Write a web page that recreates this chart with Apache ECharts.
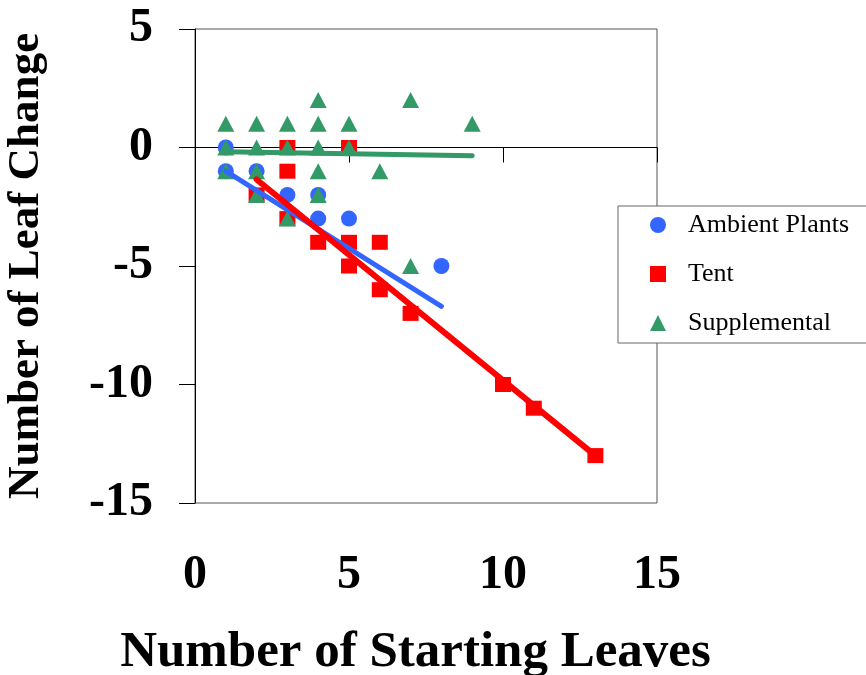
<!DOCTYPE html>
<html>
<head>
<meta charset="utf-8">
<script src="https://cdn.jsdelivr.net/npm/echarts@6/dist/echarts.min.js"></script>
<style>
  html, body { margin: 0; padding: 0; background: #fff; }
  #chart { width: 866px; height: 675px; }
</style>
</head>
<body>
<div id="chart"></div>
<script>
// Leaf change against starting leaf count, three growing treatments
const seriesNames = ['Ambient Plants', 'Tent', 'Supplemental'];

const ambientPoints = [[1, 0], [1, -1], [2, -1], [3, -2], [4, -2], [4, -3], [5, -3], [8, -5]];
const tentPoints = [[3, 0], [5, 0], [3, -1], [2, -2], [3, -3], [4, -4], [5, -4], [6, -4],
                    [5, -5], [6, -6], [7, -7], [10, -10], [11, -11], [13, -13]];
const supplementalPoints = [[1, 1], [2, 1], [3, 1], [4, 1], [5, 1], [9, 1], [4, 2], [7, 2],
                            [1, 0], [2, 0], [3, 0], [4, 0], [5, 0],
                            [1, -1], [2, -1], [4, -1], [6, -1], [2, -2], [4, -2], [3, -3], [7, -5]];

// Linear trend lines (end points)
const ambientTrend = [[1, -1.0], [8, -6.7]];
const tentTrend = [[2, -1.35], [13, -13.0]];
const supplementalTrend = [[1, -0.18], [9, -0.35]];

const xTicks = [0, 5, 10, 15];
const yTicks = [-15, -10, -5, 0, 5];

const colors = { ambient: '#3366FF', tent: '#FF0000', supplemental: '#339966' };
const serif = '"Liberation Serif", "Times New Roman", serif';

const chart = echarts.init(document.getElementById('chart'));

chart.setOption({
  animation: false,
  backgroundColor: '#fff',
  grid: {
    left: 195, right: 209, top: 29, bottom: 172,
    outerBoundsMode: 'none', containLabel: false,
    show: true, borderColor: '#555', borderWidth: 1, backgroundColor: 'transparent'
  },
  legend: {
    orient: 'vertical',
    left: 618, top: 206,
    padding: [6, 100, 7, 32],
    itemWidth: 16, itemHeight: 16,
    itemGap: 23,
    borderColor: '#666', borderWidth: 1,
    backgroundColor: '#fff',
    textStyle: { fontFamily: serif, fontSize: 26, color: '#000', padding: [0, 0, 0, 17] },
    data: [
      { name: seriesNames[0], icon: 'circle' },
      { name: seriesNames[1], icon: 'rect' },
      { name: seriesNames[2], icon: 'triangle' }
    ]
  },
  xAxis: [
    {
      // zero line with ticks
      type: 'value', min: xTicks[0], max: xTicks[xTicks.length - 1], interval: 5,
      position: 'bottom',
      axisLine: { show: true, onZero: true, lineStyle: { color: '#000', width: 1 } },
      axisTick: { show: true, inside: false, length: 15, lineStyle: { color: '#000', width: 1 } },
      axisLabel: { show: false },
      splitLine: { show: false }
    },
    {
      // tick labels and title along the bottom
      type: 'value', min: xTicks[0], max: xTicks[xTicks.length - 1], interval: 5,
      position: 'bottom',
      axisLine: { show: false, onZero: false },
      axisTick: { show: false },
      axisLabel: { show: true, margin: 49, fontFamily: serif, fontWeight: 'bold', fontSize: 48, color: '#000' },
      splitLine: { show: false },
      name: 'Number of Starting Leaves',
      nameLocation: 'middle',
      nameGap: 124,
      nameTextStyle: { fontFamily: serif, fontWeight: 'bold', fontSize: 51, color: '#000', padding: [0, 21, 0, 0] }
    }
  ],
  yAxis: {
    type: 'value', min: yTicks[0], max: yTicks[yTicks.length - 1], interval: 5,
    axisLine: { show: true, onZero: false, lineStyle: { color: '#000', width: 1 } },
    axisTick: { show: true, inside: false, length: 16, lineStyle: { color: '#000', width: 1 } },
    axisLabel: { margin: 42, fontFamily: serif, fontWeight: 'bold', fontSize: 48, color: '#000' },
    splitLine: { show: false },
    name: 'Number of Leaf Change',
    nameLocation: 'middle',
    nameRotate: 90,
    nameGap: 146,
    nameTextStyle: { fontFamily: serif, fontWeight: 'bold', fontSize: 45, color: '#000' }
  },
  series: [
    {
      name: seriesNames[0], type: 'scatter', data: ambientPoints,
      symbol: 'circle', symbolSize: 16,
      itemStyle: { color: colors.ambient, opacity: 1 }, z: 2
    },
    {
      name: seriesNames[1], type: 'scatter', data: tentPoints,
      symbol: 'rect', symbolSize: [16, 15],
      itemStyle: { color: colors.tent, opacity: 1 }, z: 3
    },
    {
      name: seriesNames[2], type: 'scatter', data: supplementalPoints,
      symbol: 'triangle', symbolSize: [17, 16],
      itemStyle: { color: colors.supplemental, opacity: 1 }, z: 4
    },
    {
      type: 'line', data: ambientTrend, showSymbol: false, symbol: 'none',
      lineStyle: { color: colors.ambient, width: 5, cap: 'round' }, z: 5, silent: true
    },
    {
      type: 'line', data: tentTrend, showSymbol: false, symbol: 'none',
      lineStyle: { color: colors.tent, width: 6, cap: 'round' }, z: 6, silent: true
    },
    {
      type: 'line', data: supplementalTrend, showSymbol: false, symbol: 'none',
      lineStyle: { color: colors.supplemental, width: 5, cap: 'round' }, z: 7, silent: true
    }
  ]
});
</script>
</body>
</html>
